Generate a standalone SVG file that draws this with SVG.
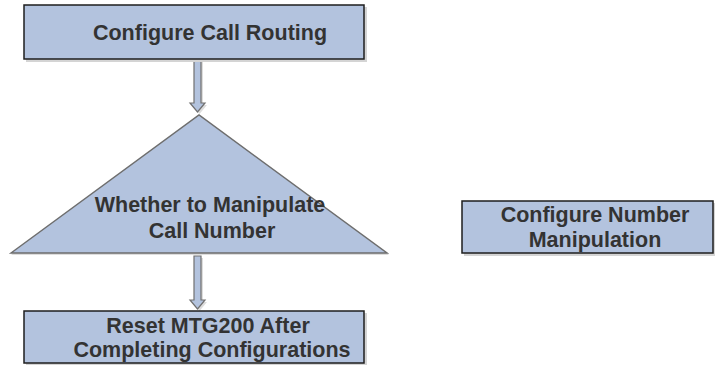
<svg xmlns="http://www.w3.org/2000/svg" width="715" height="365" viewBox="0 0 715 365">
<defs>
<style>
.box{fill:#b3c3de;stroke:#1e1e1e;stroke-width:1.5}
.shadow{fill:#d4d4d4}
.tri{fill:#b3c3de;stroke:#6e6e6e;stroke-width:1.5}
.arrow{fill:#b3c3de;stroke:#707070;stroke-width:1.2}
.lbl{font-family:"Liberation Sans",Arial,sans-serif;font-weight:bold;font-size:21.5px;fill:#333333;text-anchor:middle}
</style>
</defs>
<rect width="715" height="365" fill="#ffffff"/>
<g id="connectors">
<polygon points="196,61 203,61 203,105 207,105 199.5,114 192,105 196,105" fill="#dddddd"/>
<polygon class="arrow" points="194,59 201,59 201,103 205,103 197.5,112 190,103 194,103"/>
<polygon points="196,258 203,258 203,302 207,302 199.5,311 192,302 196,302" fill="#dddddd"/>
<polygon class="arrow" points="194,256 201,256 201,300 205,300 197.5,309 190,300 194,300"/>
</g>
<g id="node-configure-call-routing">
<rect class="shadow" x="26" y="7" width="341" height="55"/>
<rect class="box" x="24" y="5" width="340" height="54"/>
<text class="lbl" x="210" y="40">Configure Call Routing</text>
</g>
<g id="node-whether-manipulate">
<polygon points="11,255 199,117 389,255" fill="#dddddd"/>
<polygon class="tri" points="11,253 199,115 387,253"/>
<text class="lbl" x="210" y="212">Whether to Manipulate</text>
<text class="lbl" x="212" y="238">Call Number</text>
</g>
<g id="node-reset-mtg200">
<rect class="shadow" x="26" y="313" width="341" height="53"/>
<rect class="box" x="24" y="311" width="340" height="52"/>
<text class="lbl" x="208" y="333">Reset MTG200 After</text>
<text class="lbl" x="212" y="357">Completing Configurations</text>
</g>
<g id="node-configure-number-manipulation">
<rect class="shadow" x="464" y="203" width="251" height="53"/>
<rect class="box" x="462" y="201" width="251" height="52"/>
<text class="lbl" x="595" y="222">Configure Number</text>
<text class="lbl" x="595" y="247">Manipulation</text>
</g>
</svg>
